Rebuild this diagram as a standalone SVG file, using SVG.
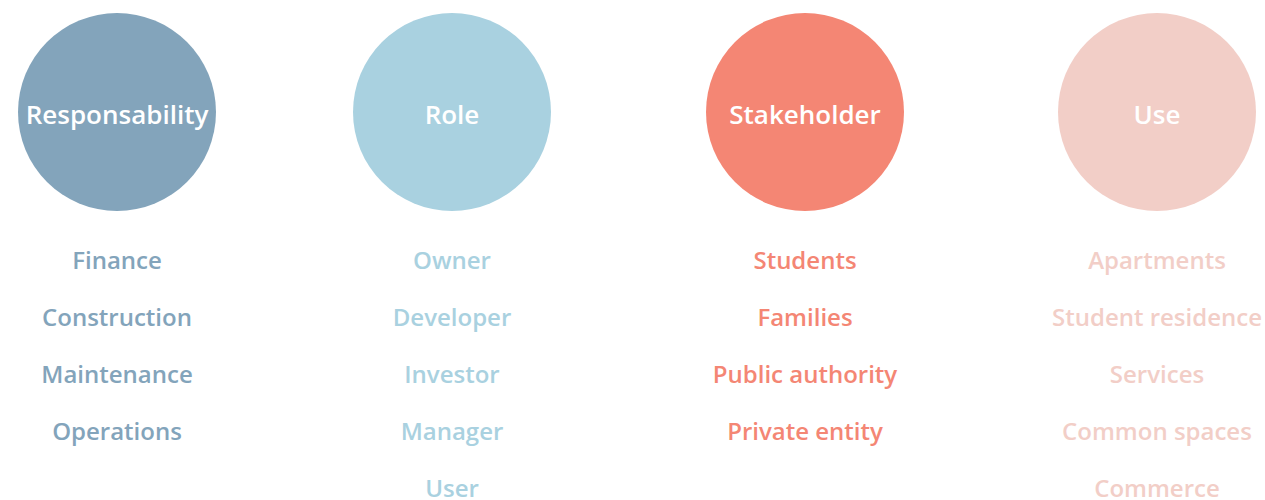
<svg xmlns="http://www.w3.org/2000/svg" width="1265" height="500" viewBox="0 0 1265 500">
<style>
.t{font-family:"Open Sans",Lato,sans-serif;font-weight:600;text-anchor:middle}
.h{font-size:26px;fill:#ffffff}
.i{font-size:24px}
.c1{fill:#83A4BB}.c2{fill:#A9D1E0}.c3{fill:#F48674}.c4{fill:#F2CEC7}
</style>
<rect width="1265" height="500" fill="#ffffff"/>
<g id="responsability">
<circle class="c1" cx="117" cy="112" r="99"/>
<text class="t h" x="117" y="124">Responsability</text>
<g class="t i c1">
<text x="117" y="269">Finance</text>
<text x="117" y="326">Construction</text>
<text x="117" y="383">Maintenance</text>
<text x="117" y="440">Operations</text>
</g>
</g>
<g id="role">
<circle class="c2" cx="452" cy="112" r="99"/>
<text class="t h" x="452" y="124">Role</text>
<g class="t i c2">
<text x="452" y="269">Owner</text>
<text x="452" y="326">Developer</text>
<text x="452" y="383">Investor</text>
<text x="452" y="440">Manager</text>
<text x="452" y="497">User</text>
</g>
</g>
<g id="stakeholder">
<circle class="c3" cx="805" cy="112" r="99"/>
<text class="t h" x="805" y="124">Stakeholder</text>
<g class="t i c3">
<text x="805" y="269">Students</text>
<text x="805" y="326">Families</text>
<text x="805" y="383">Public authority</text>
<text x="805" y="440">Private entity</text>
</g>
</g>
<g id="use">
<circle class="c4" cx="1157" cy="112" r="99"/>
<text class="t h" x="1157" y="124">Use</text>
<g class="t i c4">
<text x="1157" y="269">Apartments</text>
<text x="1157" y="326">Student residence</text>
<text x="1157" y="383">Services</text>
<text x="1157" y="440">Common spaces</text>
<text x="1157" y="497">Commerce</text>
</g>
</g>
<g id="connectors"/>
</svg>
